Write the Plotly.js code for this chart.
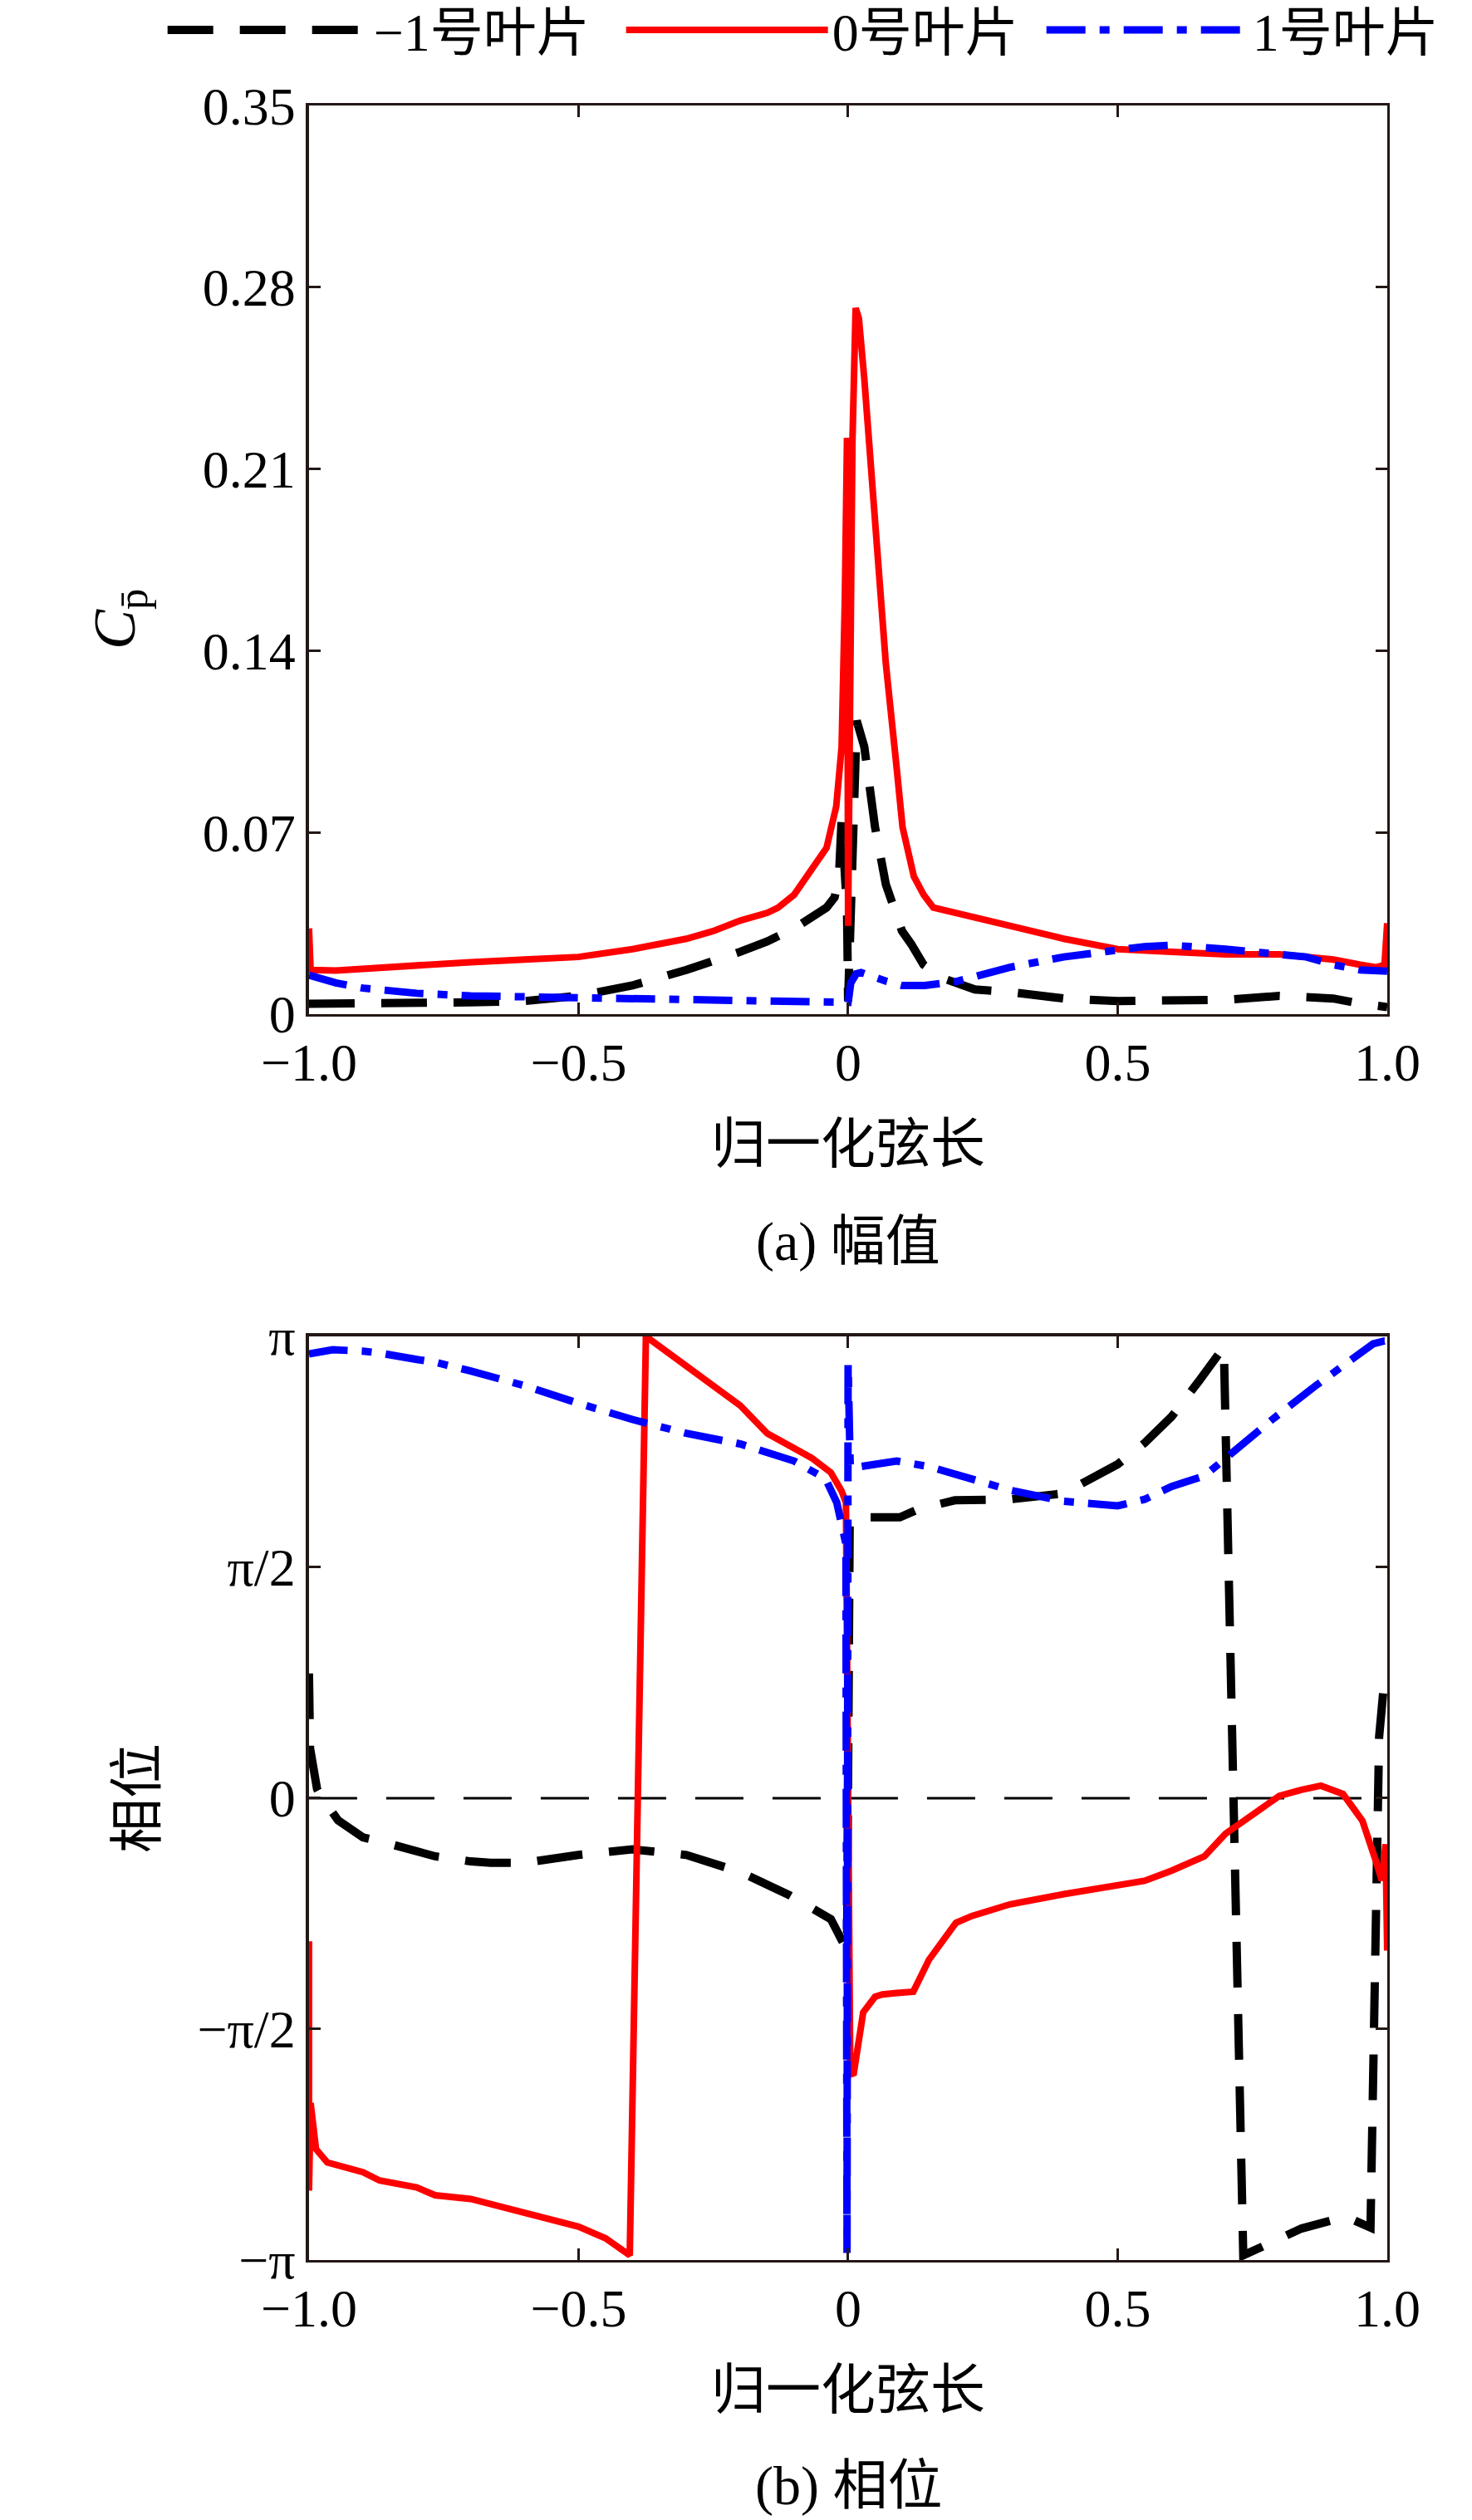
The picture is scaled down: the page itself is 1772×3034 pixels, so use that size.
<!DOCTYPE html>
<html>
<head>
<meta charset="utf-8">
<script src="https://cdn.plot.ly/plotly-3.0.1.min.js"></script>
<style>
  html, body { margin: 0; padding: 0; background: #fff; }
  #chart { width: 1772px; height: 3034px; }
</style>
</head>
<body>
<div id="chart"></div>
<script>
// (a) amplitude, one x/y pair per blade
const ampXBladeM1 = [-1, -0.9, -0.8, -0.7, -0.6, -0.5, -0.4, -0.3, -0.2, -0.15, -0.1, -0.06, -0.04, -0.025, -0.017, -0.012, -0.002, 0, 0.008, 0.012, 0.016, 0.03, 0.05, 0.07, 0.086, 0.1, 0.117, 0.14, 0.173, 0.2, 0.235, 0.3, 0.4, 0.5, 0.6, 0.7, 0.8, 0.9, 0.95, 1.0]
const ampYBladeM1 = [0.004, 0.004, 0.0042, 0.0045, 0.005, 0.007, 0.011, 0.017, 0.024, 0.028, 0.033, 0.038, 0.041, 0.045, 0.053, 0.075, 0.04, 0.005, 0.06, 0.1, 0.113, 0.103, 0.072, 0.05, 0.04, 0.032, 0.027, 0.019, 0.014, 0.012, 0.0095, 0.0085, 0.006, 0.005, 0.005, 0.0055, 0.007, 0.006, 0.004, 0.0027]

const ampXBlade0 = [-1, -0.997, -0.95, -0.9, -0.8, -0.7, -0.6, -0.5, -0.4, -0.3, -0.25, -0.2, -0.15, -0.13, -0.1, -0.07, -0.04, -0.022, -0.012, -0.006, -0.004, -0.002, 0, 0.004, 0.008, 0.014, 0.02, 0.03, 0.05, 0.07, 0.09, 0.101, 0.122, 0.14, 0.158, 0.2, 0.25, 0.3, 0.4, 0.5, 0.6, 0.7, 0.8, 0.85, 0.9, 0.95, 0.98, 0.995, 1.0]
const ampYBlade0 = [0.033, 0.017, 0.0168, 0.0175, 0.019, 0.02, 0.021, 0.022, 0.025, 0.029, 0.032, 0.036, 0.039, 0.041, 0.046, 0.055, 0.064, 0.08, 0.103, 0.16, 0.219, 0.222, 0.034, 0.12, 0.22, 0.272, 0.268, 0.245, 0.191, 0.135, 0.095, 0.072, 0.053, 0.046, 0.041, 0.039, 0.037, 0.034, 0.029, 0.025, 0.024, 0.023, 0.023, 0.022, 0.021, 0.019, 0.018, 0.019, 0.035]

const ampXBlade1 = [-1, -0.95, -0.9, -0.8, -0.7, -0.6, -0.5, -0.4, -0.3, -0.2, -0.1, -0.01, 0, 0.005, 0.015, 0.024, 0.05, 0.07, 0.1, 0.142, 0.2, 0.25, 0.3, 0.4, 0.5, 0.55, 0.6, 0.65, 0.7, 0.8, 0.85, 0.9, 0.95, 1.0]
const ampYBlade1 = [0.015, 0.012, 0.01, 0.008, 0.007, 0.0066, 0.0064, 0.006, 0.0055, 0.005, 0.0047, 0.0045, 0.0045, 0.012, 0.0155, 0.016, 0.0138, 0.0127, 0.011, 0.011, 0.0125, 0.015, 0.018, 0.022, 0.025, 0.026, 0.0265, 0.026, 0.025, 0.023, 0.022, 0.019, 0.017, 0.0165]

// (b) phase, values in units of pi
const phXBladeM1 = [-1, -0.998, -0.985, -0.977, -0.946, -0.9, -0.869, -0.8, -0.766, -0.7, -0.663, -0.6, -0.5, -0.4, -0.3, -0.2, -0.109, -0.032, -0.009, -0.002, 0.003, 0.039, 0.096, 0.131, 0.198, 0.3, 0.4, 0.45, 0.5, 0.55, 0.6, 0.65, 0.697, 0.733, 0.79, 0.841, 0.923, 0.969, 0.985, 0.995, 1.0]
const phYBladeM1 = [0.27, 0.108, 0.02, 0.003, -0.048, -0.085, -0.093, -0.115, -0.126, -0.137, -0.14, -0.14, -0.123, -0.111, -0.123, -0.16, -0.21, -0.262, -0.32, -0.33, 0.6, 0.608, 0.608, 0.626, 0.645, 0.647, 0.66, 0.689, 0.723, 0.769, 0.826, 0.902, 0.977, -0.99, -0.957, -0.932, -0.906, -0.93, 0.133, 0.26, 0.27]

const phXBlade0 = [-1, -1, -0.997, -0.987, -0.966, -0.9, -0.869, -0.8, -0.766, -0.7, -0.638, -0.6, -0.5, -0.45, -0.42, -0.405, -0.375, -0.3, -0.25, -0.2, -0.15, -0.1, -0.068, -0.032, -0.012, -0.004, 0.004, 0.01, 0.028, 0.05, 0.064, 0.09, 0.121, 0.15, 0.183, 0.2, 0.23, 0.3, 0.4, 0.5, 0.55, 0.6, 0.661, 0.7, 0.764, 0.8, 0.841, 0.877, 0.918, 0.954, 0.98, 0.99, 0.997, 1.0]
const phYBlade0 = [-0.31, -0.85, -0.66, -0.76, -0.789, -0.81, -0.828, -0.843, -0.86, -0.868, -0.886, -0.899, -0.928, -0.953, -0.975, -0.99, 1.0, 0.936, 0.89, 0.85, 0.79, 0.757, 0.737, 0.705, 0.665, 0.64, -0.594, -0.6, -0.464, -0.43, -0.425, -0.422, -0.419, -0.35, -0.295, -0.27, -0.255, -0.23, -0.208, -0.191, -0.179, -0.157, -0.126, -0.077, -0.023, 0.005, 0.018, 0.027, 0.009, -0.049, -0.14, -0.178, -0.1, -0.33]

const phXBlade1 = [-1, -0.956, -0.9, -0.869, -0.8, -0.766, -0.7, -0.6, -0.5, -0.4, -0.3, -0.2, -0.1, -0.042, -0.021, -0.013, -0.004, -0.002, 0, 0.004, 0.018, 0.05, 0.09, 0.15, 0.2, 0.3, 0.4, 0.5, 0.55, 0.6, 0.661, 0.707, 0.789, 0.866, 0.933, 0.974, 0.995, 1.0]
const phYBlade1 = [0.962, 0.971, 0.968, 0.964, 0.95, 0.944, 0.925, 0.893, 0.855, 0.82, 0.79, 0.767, 0.73, 0.692, 0.64, 0.59, 0.55, -0.985, 0.94, 0.717, 0.717, 0.723, 0.73, 0.718, 0.7, 0.667, 0.643, 0.633, 0.647, 0.675, 0.698, 0.743, 0.822, 0.892, 0.951, 0.984, 0.99, 0.99]

const bladeNames = ['\u22121号叶片', '0号叶片', '1号叶片']
const xTickVals = [-1, -0.5, 0, 0.5, 1]
const xTickText = ['\u22121.0', '\u22120.5', '0', '0.5', '1.0']
const ampTickVals = [0, 0.07, 0.14, 0.21, 0.28, 0.35]
const ampTickText = ['0', '0.07', '0.14', '0.21', '0.28', '0.35']
const phTickVals = [-1, -0.5, 0, 0.5, 1]
const phTickText = ['\u2212\u03c0', '\u2212\u03c0/2', '0', '\u03c0/2', '\u03c0']

const FONT = '"Liberation Serif", "Times New Roman", "Noto Sans CJK SC", serif'
const INK = '#231815'

const lineStyles = [
  { color: '#000000', width: 10, dash: '55px,32px' },
  { color: '#ff0000', width: 8, dash: 'solid' },
  { color: '#0000ff', width: 9, dash: '47px,17px,12px,17px' }
]
// room taken by each legend entry's text
const legendWidths = [294, 248, 230]

function trace (x, y, i, xa, ya, showlegend) {
  return {
    x: x,
    y: y,
    xaxis: xa,
    yaxis: ya,
    type: 'scatter',
    mode: 'lines',
    name: bladeNames[i],
    legendgroup: 'b' + i,
    legendwidth: legendWidths[i],
    showlegend: showlegend,
    line: lineStyles[i],
    hoverinfo: 'skip'
  }
}

const data = [
  trace(ampXBladeM1, ampYBladeM1, 0, 'x', 'y', true),
  trace(ampXBlade0, ampYBlade0, 1, 'x', 'y', true),
  trace(ampXBlade1, ampYBlade1, 2, 'x', 'y', true),
  trace(phXBladeM1, phYBladeM1, 0, 'x2', 'y2', false),
  trace(phXBlade0, phYBlade0, 1, 'x2', 'y2', false),
  trace(phXBlade1, phYBlade1, 2, 'x2', 'y2', false)
]

const baseAxis = {
  showgrid: false,
  zeroline: false,
  showline: true,
  linecolor: INK,
  linewidth: 3.5,
  mirror: 'ticks',
  ticks: 'inside',
  ticklen: 14,
  tickwidth: 3,
  tickcolor: INK,
  tickfont: { family: FONT, size: 64, color: '#000' },
  automargin: false,
  fixedrange: true
}

const xTitle = (txt) => ({ text: txt, font: { family: FONT, size: 66, color: '#000' }, standoff: 40 })

function label (txt, x, y, angle, size) {
  return {
    text: txt,
    xref: 'paper',
    yref: 'paper',
    x: x,
    y: y,
    xanchor: 'center',
    yanchor: 'middle',
    textangle: angle,
    showarrow: false,
    font: { family: FONT, size: size, color: '#000' }
  }
}

const layout = {
  width: 1772,
  height: 3034,
  margin: { l: 0, r: 0, t: 0, b: 0, autoexpand: false },
  paper_bgcolor: '#fff',
  plot_bgcolor: '#fff',
  showlegend: true,
  legend: {
    orientation: 'h',
    x: 0.111,
    xanchor: 'left',
    y: 1.004,
    yanchor: 'top',
    itemwidth: 243,
    font: { family: FONT, size: 64, color: '#000' },
    bgcolor: 'rgba(0,0,0,0)'
  },
  xaxis: Object.assign({}, baseAxis, {
    domain: [0.2099, 0.9424],
    anchor: 'y',
    range: [-1, 1],
    tickvals: xTickVals,
    ticktext: xTickText,
    title: xTitle('归一化弦长')
  }),
  yaxis: Object.assign({}, baseAxis, {
    domain: [0.5976, 0.9581],
    anchor: 'x',
    range: [0, 0.35],
    tickvals: ampTickVals,
    ticktext: ampTickText
  }),
  xaxis2: Object.assign({}, baseAxis, {
    domain: [0.2099, 0.9424],
    anchor: 'y2',
    range: [-1, 1],
    tickvals: xTickVals,
    ticktext: xTickText,
    title: xTitle('归一化弦长')
  }),
  yaxis2: Object.assign({}, baseAxis, {
    domain: [0.1032, 0.4697],
    anchor: 'x2',
    range: [-1, 1],
    tickvals: phTickVals,
    ticktext: phTickText
  }),
  shapes: [
    {
      type: 'line',
      xref: 'x2 domain',
      yref: 'y2',
      x0: 0,
      x1: 1,
      y0: 0,
      y1: 0,
      layer: 'below',
      line: { color: '#000', width: 3, dash: '58px,35px' }
    }
  ],
  annotations: [
    label('<i>C</i><sub>p\u0304</sub>', 0.0807, 0.7541, -90, 72),
    label('相位', 0.0931, 0.2864, -90, 66),
    label('(a) 幅值', 0.5762, 0.5073, 0, 66),
    label('(b) 相位', 0.5762, 0.0135, 0, 66)
  ]
}

const config = {
  displayModeBar: false,
  staticPlot: true
}

Plotly.newPlot('chart', data, layout, config)
</script>
</body>
</html>
